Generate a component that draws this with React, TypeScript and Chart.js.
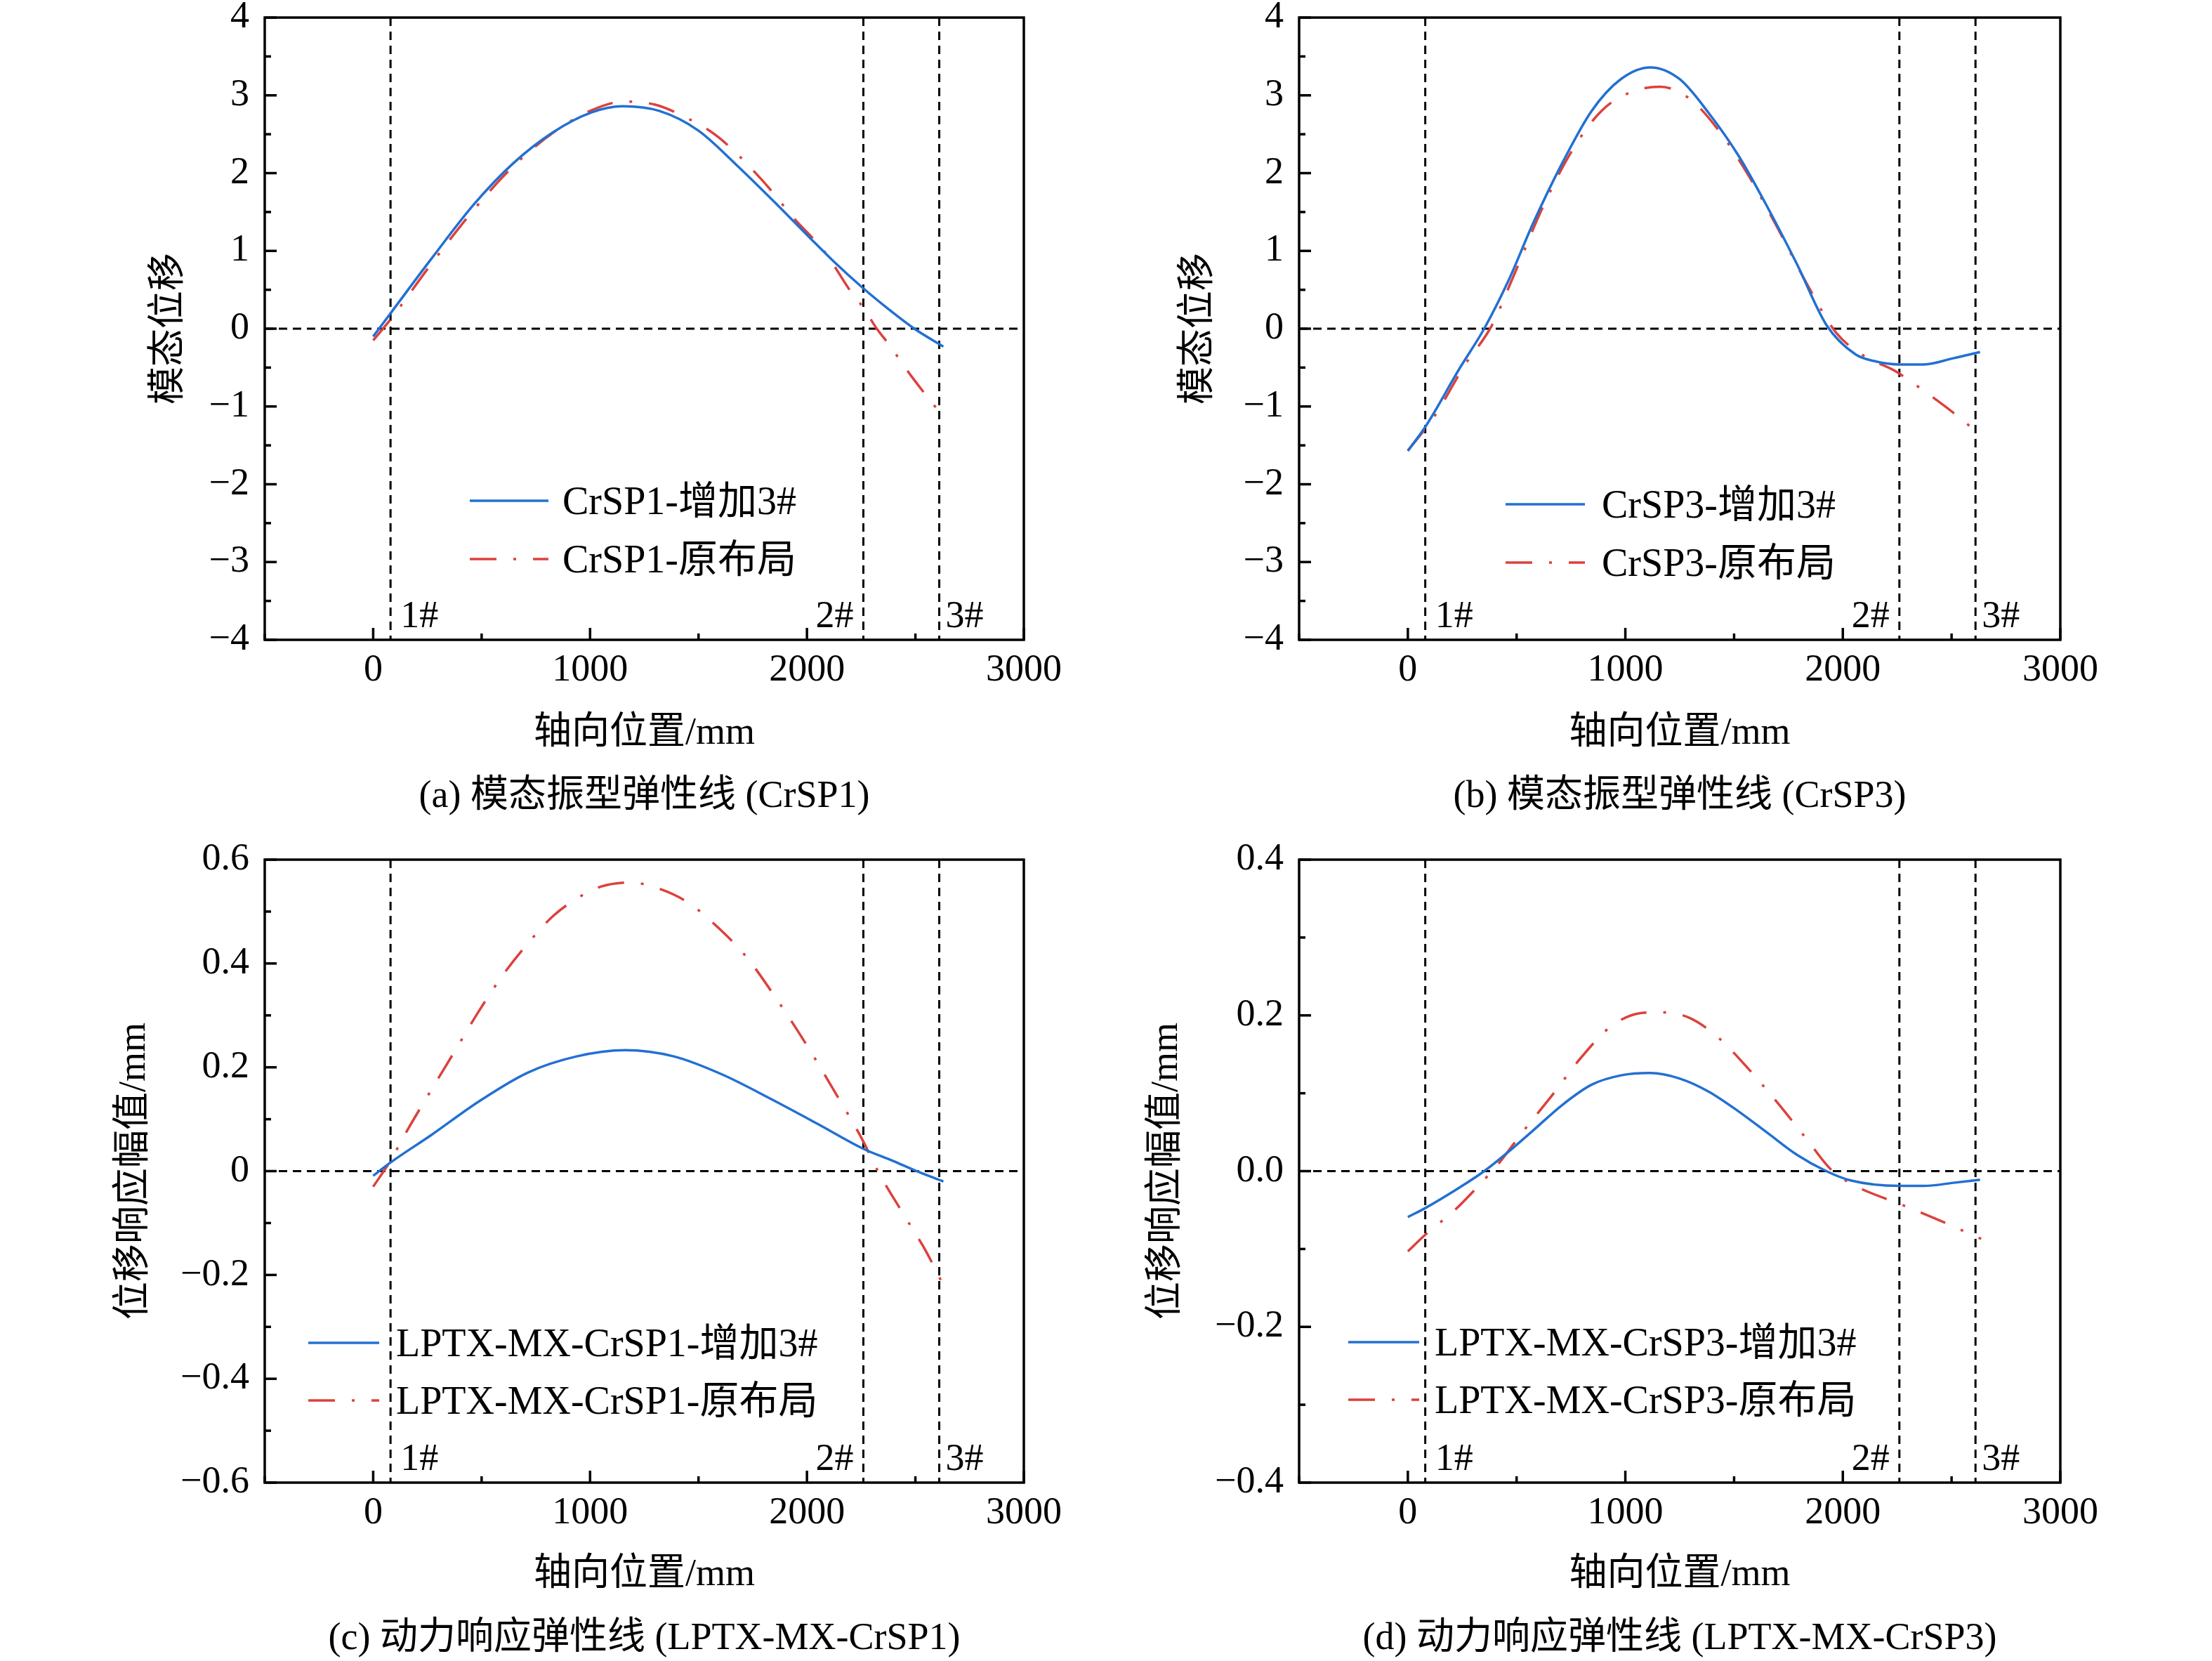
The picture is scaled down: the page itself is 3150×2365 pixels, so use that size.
import React, { useEffect, useRef } from 'react';
import { Chart, registerables } from 'chart.js';

Chart.register(...registerables);

if (typeof document !== 'undefined') {
  document.body.style.margin = '0';
  document.body.style.background = '#ffffff';
}

const SERIF = '"Liberation Serif", "Noto Sans CJK SC", serif';
const BLUE = '#2270d2';
const RED = '#dc413d';

// ---------- data ----------
const supportPositions = [80, 2260, 2610];
const supportNames = ['1#', '2#', '3#'];

// (a) 模态振型 CrSP1
const aBlueX = [0, 78, 266, 468, 647, 826, 1006, 1151, 1319, 1498, 1677, 1857, 2013, 2125, 2255, 2372, 2495, 2629];
const aBlueY = [-0.1, 0.19, 0.89, 1.61, 2.13, 2.52, 2.78, 2.86, 2.8, 2.55, 2.1, 1.61, 1.17, 0.86, 0.53, 0.26, 0.0, -0.23];
const aRedX = [0, 80, 270, 470, 650, 830, 1000, 1160, 1300, 1431, 1588, 1790, 1946, 2081, 2204, 2260, 2322, 2372, 2484, 2630];
const aRedY = [-0.15, 0.12, 0.84, 1.55, 2.1, 2.52, 2.8, 2.92, 2.88, 2.73, 2.47, 1.92, 1.4, 0.99, 0.47, 0.27, 0.0, -0.18, -0.62, -1.14];

// (b) 模态振型 CrSP3
const bBlueX = [0, 83, 238, 351, 463, 575, 710, 845, 980, 1115, 1249, 1384, 1519, 1654, 1789, 1924, 2058, 2150, 2261, 2373, 2508, 2631];
const bBlueY = [-1.57, -1.25, -0.51, 0.0, 0.62, 1.35, 2.13, 2.8, 3.21, 3.36, 3.21, 2.77, 2.23, 1.56, 0.83, 0.05, -0.33, -0.42, -0.46, -0.46, -0.38, -0.3];
const bRedX = [0, 126, 261, 384, 485, 620, 755, 890, 1025, 1160, 1294, 1429, 1564, 1699, 1834, 1969, 2103, 2238, 2373, 2508, 2638];
const bRedY = [-1.57, -1.11, -0.47, 0.03, 0.67, 1.56, 2.29, 2.8, 3.04, 3.11, 2.96, 2.55, 1.98, 1.3, 0.58, -0.05, -0.36, -0.54, -0.8, -1.08, -1.38];

// (c) 动力响应 LPTX-MX-CrSP1
const cBlueX = [0, 78, 266, 490, 714, 938, 1162, 1386, 1610, 1834, 2058, 2255, 2394, 2495, 2629];
const cBlueY = [-0.009, 0.016, 0.069, 0.135, 0.19, 0.221, 0.233, 0.221, 0.186, 0.139, 0.089, 0.044, 0.02, 0.002, -0.02];
const cRedX = [0, 78, 155, 266, 379, 490, 602, 714, 826, 938, 1050, 1185, 1319, 1453, 1588, 1722, 1856, 1991, 2125, 2255, 2327, 2439, 2551, 2629];
const cRedY = [-0.03, 0.019, 0.077, 0.155, 0.233, 0.31, 0.38, 0.439, 0.49, 0.525, 0.548, 0.556, 0.544, 0.517, 0.47, 0.412, 0.334, 0.248, 0.155, 0.061, 0.0, -0.079, -0.156, -0.22];

// (d) 动力响应 LPTX-MX-CrSP3
const dBlueX = [0, 83, 238, 351, 463, 575, 710, 845, 980, 1115, 1249, 1384, 1519, 1654, 1789, 1924, 2036, 2261, 2373, 2508, 2631];
const dBlueY = [-0.059, -0.047, -0.021, 0.0, 0.025, 0.052, 0.085, 0.111, 0.123, 0.126, 0.119, 0.102, 0.077, 0.049, 0.021, 0.0, -0.012, -0.019, -0.019, -0.015, -0.011];
const dRedX = [0, 83, 216, 351, 418, 530, 665, 800, 935, 1070, 1160, 1294, 1429, 1564, 1699, 1834, 1946, 2058, 2261, 2418, 2636];
const dRedY = [-0.103, -0.081, -0.05, -0.011, 0.01, 0.051, 0.098, 0.147, 0.186, 0.203, 0.204, 0.197, 0.171, 0.132, 0.088, 0.041, 0.002, -0.019, -0.042, -0.06, -0.087];

const xTitle = '轴向位置/mm';
const modalTitle = '模态位移';
const respTitle = '位移响应幅值/mm';

// ---------- layout (page coordinates) ----------
type SeriesDef = { label: string; xs: number[]; ys: number[]; dashed: boolean };
type PanelDef = {
  left: number; top: number; w: number; h: number;
  plot: [number, number, number, number];
  yMin: number; yMax: number; yStep: number; yMajor: number; yFmt: 'int' | 'c' | 'd';
  yTitle: string; yTitleX: number; xTitleY: number; captionY: number; caption: string;
  series: SeriesDef[];
  legend: { x: number; len: number; gap: number; y: number; dy: number };
};

const panels: PanelDef[] = [
  {
    left: 0, top: 0, w: 1575, h: 1182, plot: [377, 25, 1458, 911],
    yMin: -4, yMax: 4, yStep: 0.5, yMajor: 1, yFmt: 'int',
    yTitle: modalTitle, yTitleX: 242, xTitleY: 1045, captionY: 1135,
    caption: '(a) 模态振型弹性线 (CrSP1)',
    series: [
      { label: 'CrSP1-增加3#', xs: aBlueX, ys: aBlueY, dashed: false },
      { label: 'CrSP1-原布局', xs: aRedX, ys: aRedY, dashed: true },
    ],
    legend: { x: 669, len: 112, gap: 20, y: 713, dy: 83 },
  },
  {
    left: 1575, top: 0, w: 1575, h: 1182, plot: [1850, 25, 2934, 911],
    yMin: -4, yMax: 4, yStep: 0.5, yMajor: 1, yFmt: 'int',
    yTitle: modalTitle, yTitleX: 1708, xTitleY: 1045, captionY: 1135,
    caption: '(b) 模态振型弹性线 (CrSP3)',
    series: [
      { label: 'CrSP3-增加3#', xs: bBlueX, ys: bBlueY, dashed: false },
      { label: 'CrSP3-原布局', xs: bRedX, ys: bRedY, dashed: true },
    ],
    legend: { x: 2144, len: 113, gap: 24, y: 718, dy: 83 },
  },
  {
    left: 0, top: 1182, w: 1575, h: 1183, plot: [377, 1224, 1458, 2111],
    yMin: -0.6, yMax: 0.6, yStep: 0.1, yMajor: 0.2, yFmt: 'c',
    yTitle: respTitle, yTitleX: 192, xTitleY: 2243, captionY: 2334,
    caption: '(c) 动力响应弹性线 (LPTX-MX-CrSP1)',
    series: [
      { label: 'LPTX-MX-CrSP1-增加3#', xs: cBlueX, ys: cBlueY, dashed: false },
      { label: 'LPTX-MX-CrSP1-原布局', xs: cRedX, ys: cRedY, dashed: true },
    ],
    legend: { x: 439, len: 101, gap: 24, y: 1912, dy: 82 },
  },
  {
    left: 1575, top: 1182, w: 1575, h: 1183, plot: [1850, 1224, 2934, 2111],
    yMin: -0.4, yMax: 0.4, yStep: 0.1, yMajor: 0.2, yFmt: 'd',
    yTitle: respTitle, yTitleX: 1662, xTitleY: 2243, captionY: 2334,
    caption: '(d) 动力响应弹性线 (LPTX-MX-CrSP3)',
    series: [
      { label: 'LPTX-MX-CrSP3-增加3#', xs: dBlueX, ys: dBlueY, dashed: false },
      { label: 'LPTX-MX-CrSP3-原布局', xs: dRedX, ys: dRedY, dashed: true },
    ],
    legend: { x: 1920, len: 101, gap: 22, y: 1911, dy: 82 },
  },
];

const TICK_SIZE = 54;
const TITLE_SIZE = 54;
const LEGEND_SIZE = 56;
const LH = 1.2;

const isMultiple = (v: number, m: number) => Math.abs(v / m - Math.round(v / m)) < 1e-6;
const minus = (s: string) => s.replace('-', '\u2212');

function fmtY(v: number, kind: 'int' | 'c' | 'd', major: number): string {
  if (!isMultiple(v, major)) return '';
  if (Math.abs(v) < 1e-9) return kind === 'd' ? '0.0' : '0';
  if (kind === 'int') return minus(String(Math.round(v)));
  return minus(v.toFixed(1));
}

function makeDecor(def: PanelDef) {
  return {
    id: 'decor',
    beforeDatasetsDraw(chart: any) {
      const { ctx, chartArea: a, scales } = chart;
      const x = scales.x; const y = scales.y;
      ctx.save();
      ctx.beginPath();
      ctx.rect(a.left, a.top, a.right - a.left, a.bottom - a.top);
      ctx.clip();
      ctx.strokeStyle = '#000';
      ctx.lineWidth = 3;
      ctx.setLineDash([12, 8]);
      const y0 = y.getPixelForValue(0);
      ctx.beginPath(); ctx.moveTo(a.left, y0); ctx.lineTo(a.right, y0); ctx.stroke();
      supportPositions.forEach((p) => {
        const px = x.getPixelForValue(p);
        ctx.beginPath(); ctx.moveTo(px, a.top); ctx.lineTo(px, a.bottom); ctx.stroke();
      });
      ctx.restore();
    },
    afterDatasetsDraw(chart: any) {
      const { ctx, chartArea: a, scales } = chart;
      const x = scales.x; const y = scales.y;
      ctx.save();
      ctx.setLineDash([]);
      ctx.strokeStyle = '#000';
      ctx.lineWidth = 3.5;
      // tick marks (inward)
      y.ticks.forEach((t: any) => {
        const py = y.getPixelForValue(t.value);
        const len = isMultiple(t.value, def.yMajor) ? 17 : 9;
        ctx.beginPath(); ctx.moveTo(a.left, py); ctx.lineTo(a.left + len, py); ctx.stroke();
      });
      x.ticks.forEach((t: any) => {
        const px = x.getPixelForValue(t.value);
        const len = isMultiple(t.value, 1000) ? 17 : 9;
        ctx.beginPath(); ctx.moveTo(px, a.bottom); ctx.lineTo(px, a.bottom - len); ctx.stroke();
      });
      // frame
      ctx.strokeRect(a.left, a.top, a.right - a.left, a.bottom - a.top);
      // support labels
      ctx.fillStyle = '#000';
      ctx.font = `${TICK_SIZE}px ${SERIF}`;
      ctx.textBaseline = 'alphabetic';
      supportPositions.forEach((p, i) => {
        const px = x.getPixelForValue(p);
        const by = a.bottom - 18;
        if (i === 1) { ctx.textAlign = 'right'; ctx.fillText(supportNames[i], px - 14, by); }
        else { ctx.textAlign = 'left'; ctx.fillText(supportNames[i], px + (i === 0 ? 14 : 9), by); }
      });
      // legend
      const L = def.legend;
      ctx.font = `${LEGEND_SIZE}px ${SERIF}`;
      ctx.textAlign = 'left';
      chart.data.datasets.forEach((ds: any, i: number) => {
        const lx = L.x - def.left;
        const ly = L.y - def.top + i * L.dy;
        ctx.strokeStyle = ds.borderColor;
        ctx.lineWidth = ds.borderWidth;
        ctx.setLineDash(ds.borderDash || []);
        ctx.beginPath(); ctx.moveTo(lx, ly); ctx.lineTo(lx + L.len, ly); ctx.stroke();
        ctx.setLineDash([]);
        ctx.fillStyle = '#000';
        ctx.fillText(ds.label, lx + L.len + L.gap, ly + 19);
      });
      ctx.restore();
    },
  };
}

function buildConfig(def: PanelDef): any {
  const [pl, pt, pr, pb] = def.plot;
  const lh = TITLE_SIZE * LH;
  const capPadBottom = def.top + def.h - def.captionY - lh / 2;
  const capBox = lh + capPadBottom;
  const xAxisHeight = def.top + def.h - capBox - pb;
  const xTitlePadBottom = def.top + def.h - capBox - lh / 2 - def.xTitleY;
  const yAxisWidth = pl - def.left;
  const yTitlePadTop = def.yTitleX - def.left - lh / 2;

  return {
    type: 'line',
    data: {
      datasets: def.series.map((s) => ({
        label: s.label,
        data: s.xs.map((xv, i) => ({ x: xv, y: s.ys[i] })),
        borderColor: s.dashed ? RED : BLUE,
        borderWidth: 3.5,
        borderDash: s.dashed ? [38, 24, 4, 24] : [],
        pointRadius: 0,
        fill: false,
        cubicInterpolationMode: 'monotone',
      })),
    },
    options: {
      animation: false,
      responsive: true,
      maintainAspectRatio: false,
      events: [],
      layout: { padding: { left: 0, top: pt - def.top, right: def.left + def.w - pr, bottom: 0 } },
      plugins: {
        legend: { display: false },
        tooltip: { enabled: false },
        title: {
          display: true,
          position: 'bottom',
          fullSize: false,
          text: def.caption,
          color: '#000',
          font: { family: SERIF, size: TITLE_SIZE, weight: 'normal', lineHeight: LH },
          padding: { top: 0, bottom: capPadBottom },
        },
      },
      scales: {
        x: {
          type: 'linear',
          min: -500,
          max: 3000,
          grid: { display: false, drawTicks: false },
          border: { display: false },
          ticks: {
            stepSize: 500,
            autoSkip: false,
            maxRotation: 0,
            padding: 11,
            color: '#000',
            font: { family: SERIF, size: TICK_SIZE, lineHeight: LH },
            callback: (v: number) => (isMultiple(v, 1000) ? String(v) : ''),
          },
          title: {
            display: true,
            text: xTitle,
            color: '#000',
            font: { family: SERIF, size: TITLE_SIZE, lineHeight: LH },
            padding: { top: 0, bottom: xTitlePadBottom },
          },
          afterFit: (s: any) => {
            s.height = xAxisHeight;
            s.paddingLeft = 0; s.paddingRight = 0;
          },
        },
        y: {
          type: 'linear',
          min: def.yMin,
          max: def.yMax,
          grid: { display: false, drawTicks: false },
          border: { display: false },
          ticks: {
            stepSize: def.yStep,
            autoSkip: false,
            padding: 22,
            color: '#000',
            font: { family: SERIF, size: TICK_SIZE, lineHeight: LH },
            callback: (v: number) => fmtY(v, def.yFmt, def.yMajor),
          },
          title: {
            display: true,
            text: def.yTitle,
            color: '#000',
            font: { family: SERIF, size: TITLE_SIZE, lineHeight: LH },
            padding: { top: yTitlePadTop, bottom: 0 },
          },
          afterFit: (s: any) => {
            s.width = yAxisWidth;
            s.paddingTop = 0; s.paddingBottom = 0;
          },
        },
      },
    },
    plugins: [makeDecor(def)],
  };
}

function Panel({ def }: { def: PanelDef }) {
  const ref = useRef<HTMLCanvasElement | null>(null);
  useEffect(() => {
    if (!ref.current) return;
    const chart = new Chart(ref.current, buildConfig(def));
    return () => chart.destroy();
  }, [def]);
  return (
    <div style={{ position: 'absolute', left: def.left, top: def.top, width: def.w, height: def.h }}>
      <canvas ref={ref} />
    </div>
  );
}

export default function App() {
  return (
    <div style={{ position: 'relative', width: 3150, height: 2365, background: '#fff', overflow: 'hidden' }}>
      {panels.map((p, i) => (
        <Panel key={i} def={p} />
      ))}
    </div>
  );
}
